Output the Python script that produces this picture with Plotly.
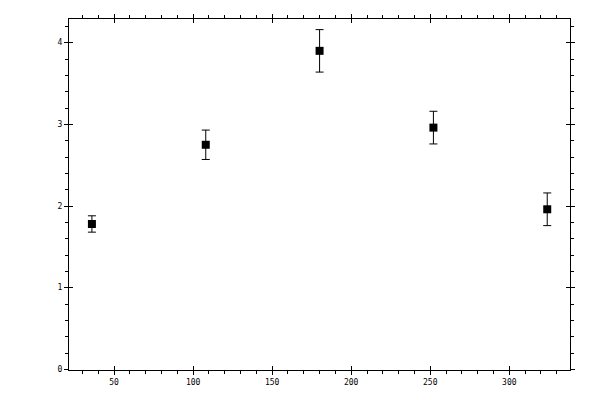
import plotly.graph_objects as go

# values
x_vals = [36, 108, 180, 252, 324]
y_vals = [1.78, 2.75, 3.90, 2.96, 1.96]
y_err = [0.10, 0.18, 0.26, 0.20, 0.20]

x_range = [21.5, 338.4]
y_range = [-0.008, 4.29]

fig = go.Figure()
fig.add_trace(go.Scatter(
    x=x_vals, y=y_vals, mode="markers",
    marker=dict(symbol="square", size=8, color="black"),
    error_y=dict(type="data", array=y_err, color="black", thickness=1, width=4),
    showlegend=False,
))
# invisible trace so the overlay axes (inside half of the crossing ticks) are drawn
fig.add_trace(go.Scatter(x=x_range, y=y_range, mode="markers", xaxis="x2", yaxis="y2",
                         marker=dict(opacity=0), showlegend=False, hoverinfo="skip"))

font = dict(family="DejaVu Sans Mono", size=8, color="black")
axis_common = dict(showgrid=False, zeroline=False, showline=True, linecolor="black",
                   linewidth=1, mirror="ticks", ticks="outside", ticklen=4,
                   tickwidth=1, tickcolor="black", tickfont=font)

# page body adds an 8px offset, so the figure is 8px smaller and margins shifted
fig.update_layout(
    width=592, height=392,
    margin=dict(l=61, r=30, t=11, b=30, autoexpand=False),
    plot_bgcolor="white", paper_bgcolor="white",
    xaxis=dict(range=x_range, dtick=50, tick0=0,
               minor=dict(ticks="outside", ticklen=3, dtick=10, tick0=0, tickcolor="black"),
               **axis_common),
    yaxis=dict(range=y_range, dtick=1, tick0=0,
               minor=dict(ticks="outside", ticklen=3, dtick=0.2, tick0=0, tickcolor="black"),
               **axis_common),
    xaxis2=dict(overlaying="x", range=x_range, dtick=50, tick0=0, ticks="inside", ticklen=4,
                tickcolor="black", showticklabels=False, showgrid=False, zeroline=False,
                showline=False, mirror="ticks", side="bottom"),
    yaxis2=dict(overlaying="y", range=y_range, dtick=1, tick0=0, ticks="inside", ticklen=4,
                tickcolor="black", showticklabels=False, showgrid=False, zeroline=False,
                showline=False, mirror="ticks", side="left"),
)

fig.write_html("out.html")
